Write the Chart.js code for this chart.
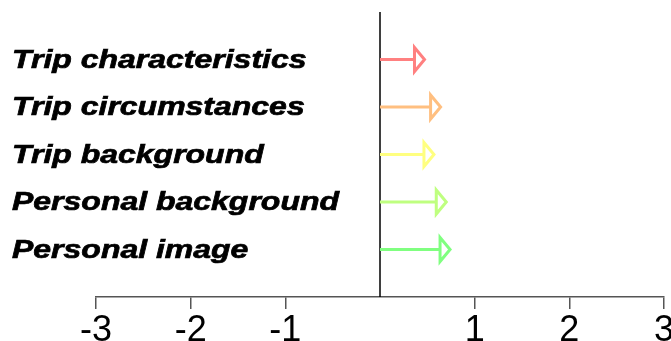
<!DOCTYPE html>
<html>
<head>
<meta charset="utf-8">
<script src="https://cdn.jsdelivr.net/npm/chart.js@4/dist/chart.umd.min.js"></script>
<style>
  html, body { margin: 0; padding: 0; background: #fff; }
  #wrap { width: 671px; height: 341px; }
</style>
</head>
<body>
<div id="wrap"><canvas id="arrowChart"></canvas></div>
<script>
// factors, top to bottom
const factors = ['Trip characteristics', 'Trip circumstances', 'Trip background', 'Personal background', 'Personal image'];
const effects = [0.47, 0.64, 0.57, 0.70, 0.74];
const arrowColors = ['#ff8080', '#ffbf80', '#ffff80', '#bfff80', '#80ff80'];
const tickValues = [-3, -2, -1, 1, 2, 3];

// one line dataset per arrow, from 0 to the effect
const datasets = factors.map((name, i) => ({
  label: name,
  data: [{ x: 0, y: i + 1 }, { x: effects[i], y: i + 1 }],
  borderColor: arrowColors[i],
  borderWidth: 3,
  pointRadius: 0,
  arrow: true
}));

// zero reference line
datasets.push({
  label: 'zero',
  data: [{ x: 0, y: 0 }, { x: 0, y: 6 }],
  borderColor: '#000',
  borderWidth: 1.5,
  pointRadius: 0
});

const arrowHeads = {
  id: 'arrowHeads',
  afterDatasetsDraw(chart) {
    const ctx = chart.ctx;
    chart.data.datasets.forEach((ds, i) => {
      if (!ds.arrow) return;
      const tip = chart.getDatasetMeta(i).data[1];
      ctx.save();
      ctx.beginPath();
      ctx.moveTo(tip.x - 10, tip.y - 12);
      ctx.lineTo(tip.x, tip.y);
      ctx.lineTo(tip.x - 10, tip.y + 12);
      ctx.closePath();
      ctx.fillStyle = '#fff';
      ctx.fill();
      ctx.lineWidth = 3;
      ctx.lineJoin = 'miter';
      ctx.strokeStyle = ds.borderColor;
      ctx.stroke();
      ctx.restore();
    });
  }
};

// factor names, wide bold italic like the original device font
const factorLabels = {
  id: 'factorLabels',
  afterDraw(chart) {
    const ctx = chart.ctx;
    const y = chart.scales.y;
    ctx.save();
    ctx.font = 'italic bold 26px "Liberation Sans", Arial, sans-serif';
    ctx.fillStyle = '#000';
    ctx.strokeStyle = '#000';
    ctx.lineWidth = 0.7;
    ctx.textAlign = 'left';
    ctx.textBaseline = 'middle';
    factors.forEach((name, i) => {
      ctx.save();
      ctx.translate(12, y.getPixelForValue(i + 1) + 1);
      ctx.scale(1.23, 1);
      ctx.fillText(name, 0, 0);
      ctx.strokeText(name, 0, 0);
      ctx.restore();
    });
    ctx.restore();
  }
};

new Chart(document.getElementById('arrowChart'), {
  type: 'line',
  data: { datasets },
  plugins: [arrowHeads, factorLabels],
  options: {
    responsive: true,
    maintainAspectRatio: false,
    animation: false,
    layout: { padding: { left: 96, right: 7, top: 12, bottom: 0 } },
    plugins: { legend: { display: false }, tooltip: { enabled: false } },
    scales: {
      x: {
        type: 'linear',
        min: -3,
        max: 3,
        afterBuildTicks: (scale) => { scale.ticks = tickValues.map(v => ({ value: v })); },
        afterFit: (scale) => {
          // labels run off the bottom edge in the original
          scale.height = 44;
          scale.paddingLeft = 0;
          scale.paddingRight = 0;
        },
        grid: { drawOnChartArea: false, drawTicks: true, tickLength: 12, color: '#555', lineWidth: 1.5 },
        border: { display: true, color: '#555', width: 1.5 },
        ticks: {
          color: '#000',
          padding: 0,
          maxRotation: 0,
          autoSkip: false,
          font: { family: '"Liberation Sans", Arial, sans-serif', size: 36 }
        }
      },
      y: {
        type: 'linear',
        min: 0,
        max: 6,
        reverse: true,
        display: false
      }
    }
  }
});
</script>
</body>
</html>
